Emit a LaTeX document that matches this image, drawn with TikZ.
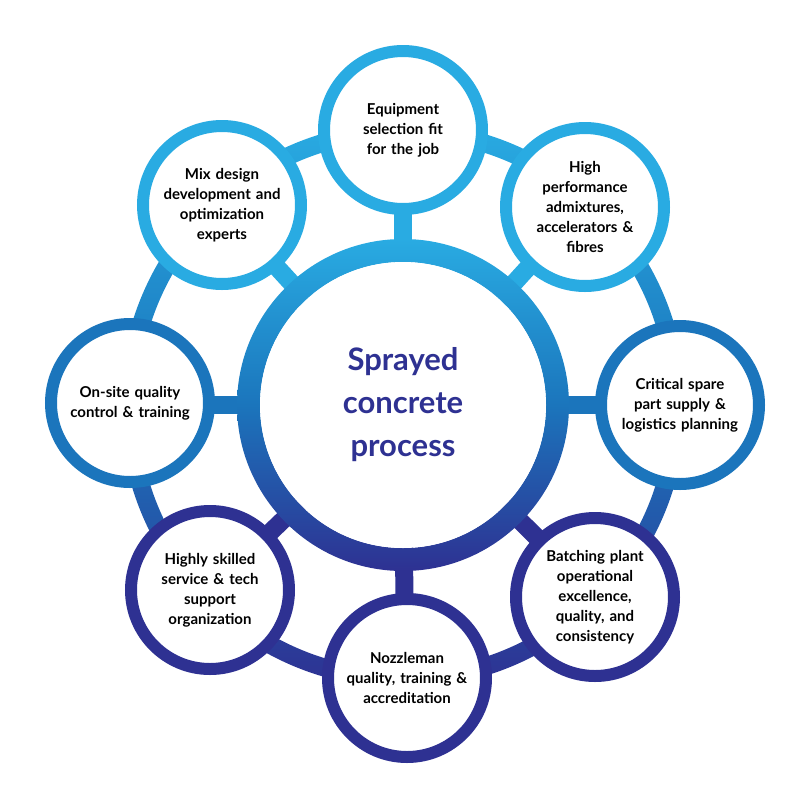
\documentclass[tikz,border=0pt]{standalone}
\usepackage{fontspec}
\setmainfont{Lato}
\definecolor{cl}{HTML}{29ABE2}
\definecolor{cm}{HTML}{1B75BC}
\definecolor{cd}{HTML}{2E3192}
\begin{document}
\begin{tikzpicture}[x=1pt,y=-1pt,
  sat/.style={circle,draw=#1,line width=12pt,fill=white,minimum size=158pt,inner sep=0pt,align=center,font=\fontsize{15}{20}\selectfont\bfseries,text width=125pt},
  spoke/.style={line width=18pt,draw=#1}]
\useasboundingbox (0,0) rectangle (807,807);
\coordinate (c) at (403,405);
% orbit ring
\shade[top color=cl,bottom color=cd,middle color=cm,even odd rule] (c) circle (283) (c) circle (265);
% spokes
\foreach \p/\col in {{403,130}/cl,{585,205}/cl,{220,205}/cl,{680,405}/cm,{130,405}/cm,{595,595}/cd,{405,680}/cd,{210,590}/cd}{
  \draw[spoke=\col] (c) -- (\p);}
% center
\shade[top color=cl,bottom color=cd,middle color=cm,even odd rule] (c) circle (166) (c) circle (143);
\node[circle,fill=white,minimum size=286pt,inner sep=0pt,align=center,text=cd,font=\fontsize{31}{43}\selectfont\bfseries] (center) at (c) {Sprayed\\concrete\\process};
% satellites
\node[sat=cl] (t) at (403,130) {Equipment\\selection fit\\for the job};
\node[sat=cl] (tr) at (585,207) {High\\performance\\admixtures,\\accelerators \&\\fibres};
\node[sat=cl] (tl) at (222,205) {Mix design\\development and\\optimization\\experts};
\node[sat=cm] (r) at (680,405) {Critical spare\\part supply \&\\logistics planning};
\node[sat=cm] (l) at (130,403) {On-site quality\\control \& training};
\node[sat=cd] (br) at (595,597) {Batching plant\\operational\\excellence,\\quality, and\\consistency};
\node[sat=cd] (b) at (407,678) {Nozzleman\\quality, training \&\\accreditation};
\node[sat=cd] (bl) at (210,590) {Highly skilled\\service \& tech\\support\\organization};
\end{tikzpicture}
\end{document}
